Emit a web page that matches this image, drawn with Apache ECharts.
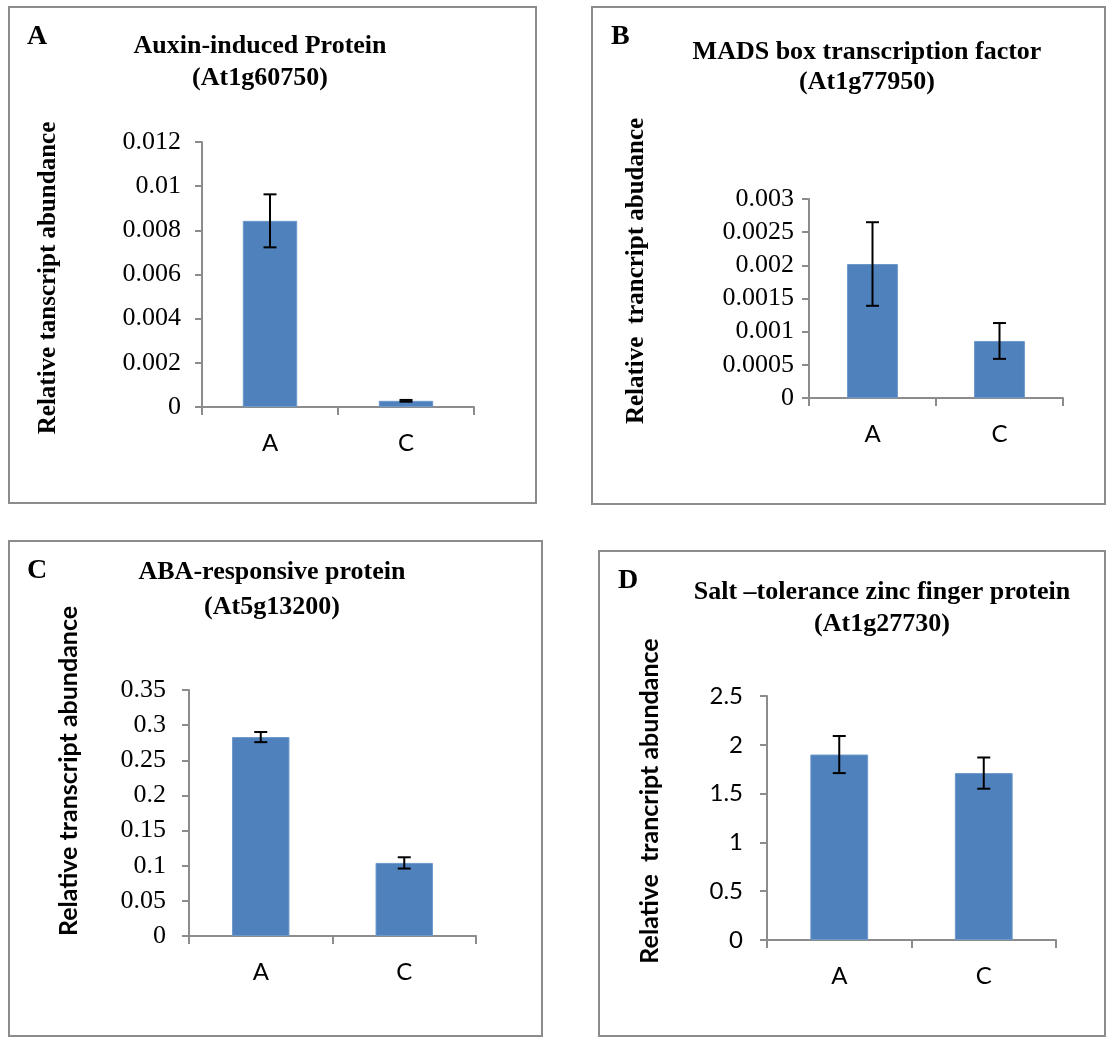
<!DOCTYPE html>
<html>
<head>
<meta charset="utf-8">
<script src="https://cdn.jsdelivr.net/npm/echarts/dist/echarts.min.js"></script>
<style>
  html, body { margin: 0; padding: 0; background: #fff; }
  #main { width: 1107px; height: 1038px; }
</style>
</head>
<body>
<div id="main"></div>
<script>
var categories = ['A', 'C'];

// A - Auxin-induced Protein
var auxinValues = [0.00843, 0.00028];
var auxinErrors = [0.0012, 0.00004];
// B - MADS box
var madsValues = [0.00202, 0.00086];
var madsErrors = [0.00063, 0.00027];
// C - ABA-responsive
var abaValues = [0.283, 0.104];
var abaErrors = [0.0072, 0.008];
// D - Salt tolerance zinc finger
var saltValues = [1.9, 1.71];
var saltErrors = [0.19, 0.16];

var yMax = [0.012, 0.003, 0.35, 2.5];
var yStep = [0.002, 0.0005, 0.05, 0.5];

var serif = '"Liberation Serif", "Times New Roman", serif';
var sans = 'Lato, "Liberation Sans", sans-serif';
var axisGray = '#8c8c8c';
var barBlue = '#4F81BD';

var chart = echarts.init(document.getElementById('main'));

var grids = [
    { left: 202, top: 142, width: 272, height: 265 },
    { left: 809, top: 199, width: 254, height: 199 },
    { left: 189, top: 690, width: 287, height: 246 },
    { left: 767, top: 696, width: 289, height: 244 }
];
var tickFont = [serif, serif, serif, sans];
var tickSize = [26, 26, 26, 24];
var tickMargin = [21, 15, 23, 24];

var xAxes = [];
var yAxes = [];
for (var i = 0; i < 4; i++) {
    xAxes.push({
        type: 'category',
        gridIndex: i,
        data: categories,
        axisLine: { lineStyle: { color: axisGray, width: 2 } },
        axisTick: { show: true, length: 8, lineStyle: { color: axisGray, width: 2 } },
        axisLabel: { color: '#000', fontFamily: sans, fontSize: 24, margin: 24 }
    });
    yAxes.push({
        type: 'value',
        gridIndex: i,
        min: 0,
        max: yMax[i],
        interval: yStep[i],
        splitLine: { show: false },
        axisLine: { show: true, lineStyle: { color: axisGray, width: 2 } },
        axisTick: { show: true, length: 7, lineStyle: { color: axisGray, width: 2 } },
        axisLabel: { color: '#000', fontFamily: tickFont[i], fontSize: tickSize[i], margin: tickMargin[i] }
    });
}

function errorRender(params, api) {
    var x = api.value(0);
    var top = api.coord([x, api.value(2)]);
    var bot = api.coord([x, api.value(1)]);
    var cap = 6.5;
    var st = { stroke: '#000', lineWidth: 2, fill: null };
    return {
        type: 'group',
        children: [
            { type: 'line', shape: { x1: top[0], y1: top[1], x2: bot[0], y2: bot[1] }, style: st },
            { type: 'line', shape: { x1: top[0] - cap, y1: top[1], x2: top[0] + cap, y2: top[1] }, style: st },
            { type: 'line', shape: { x1: bot[0] - cap, y1: bot[1], x2: bot[0] + cap, y2: bot[1] }, style: st }
        ]
    };
}

function errData(vals, errs) {
    return vals.map(function (v, k) { return [k, v - errs[k], v + errs[k]]; });
}

var allValues = [auxinValues, madsValues, abaValues, saltValues];
var allErrors = [auxinErrors, madsErrors, abaErrors, saltErrors];
var series = [];
for (var j = 0; j < 4; j++) {
    series.push({
        type: 'bar',
        xAxisIndex: j,
        yAxisIndex: j,
        data: allValues[j],
        barWidth: '40%',
        itemStyle: { color: barBlue, borderColor: '#6c98cb', borderWidth: 1 }
    });
    series.push({
        type: 'custom',
        xAxisIndex: j,
        yAxisIndex: j,
        renderItem: errorRender,
        data: errData(allValues[j], allErrors[j]),
        z: 5
    });
}

// panel boxes, letters, titles, y axis names
function box(x, y, w, h) {
    return { type: 'rect', shape: { x: x, y: y, width: w, height: h }, style: { fill: null, stroke: axisGray, lineWidth: 2 }, silent: true };
}
function label(txt, x, y, font, align) {
    return { type: 'text', x: x, y: y, style: { text: txt, font: font, fill: '#000', align: align || 'center', verticalAlign: 'middle' } };
}
function yName(txt, x, y, font) {
    return { type: 'text', x: x, y: y, rotation: Math.PI / 2, style: { text: txt, font: font, fill: '#000', align: 'center', verticalAlign: 'middle' } };
}

var titleFont = 'bold 26px ' + serif;
var letterFont = 'bold 28px ' + serif;
var graphics = [
    box(9, 7, 527, 496),
    box(592, 7, 513, 497),
    box(9, 541, 533, 495),
    box(599, 551, 506, 485),

    label('A', 27, 37, letterFont, 'left'),
    label('B', 611, 37, letterFont, 'left'),
    label('C', 27, 571, letterFont, 'left'),
    label('D', 618, 581, letterFont, 'left'),

    label('Auxin-induced Protein', 260, 46, titleFont),
    label('(At1g60750)', 260, 78, titleFont),
    label('MADS box transcription factor', 867, 52, titleFont),
    label('(At1g77950)', 867, 82, titleFont),
    label('ABA-responsive protein', 272, 572, titleFont),
    label('(At5g13200)', 272, 607, titleFont),
    label('Salt \u2013tolerance zinc finger protein', 882, 592, titleFont),
    label('(At1g27730)', 882, 624, titleFont),

    yName('Relative tanscript abundance', 49, 278, 'bold 25px ' + serif),
    yName('Relative  trancript abudance', 637, 271, 'bold 25px ' + serif),
    yName('Relative transcript abundance', 69, 771, 'bold 25px ' + sans),
    yName('Relative  trancript abundance', 650, 801, 'bold 25px ' + sans)
];

chart.setOption({
    animation: false,
    backgroundColor: '#fff',
    grid: grids,
    xAxis: xAxes,
    yAxis: yAxes,
    series: series,
    graphic: graphics
});
</script>
</body>
</html>
